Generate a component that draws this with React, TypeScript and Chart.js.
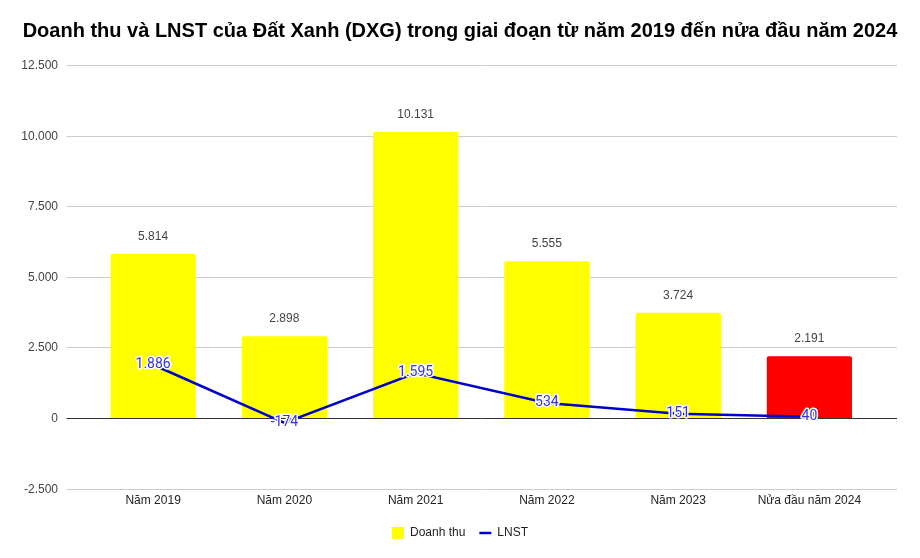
import React, { useEffect, useRef } from "react";
import { Chart, registerables } from "chart.js";

Chart.register(...registerables);

const titleText = "Doanh thu và LNST của Đất Xanh (DXG) trong giai đoạn từ năm 2019 đến nửa đầu năm 2024";
const categories = ["Năm 2019", "Năm 2020", "Năm 2021", "Năm 2022", "Năm 2023", "Nửa đầu năm 2024"];
const doanhThu = [5814, 2898, 10131, 5555, 3724, 2191];
const lnst = [1886, -174, 1595, 534, 151, 40];
const barColors = ["#ffff00", "#ffff00", "#ffff00", "#ffff00", "#ffff00", "#ff0000"];
const yMin = -2500;
const yMax = 12500;
const yStep = 2500;

const fmt = (v: number) => {
  const s = String(Math.abs(Math.round(v))).replace(/\B(?=(\d{3})+(?!\d))/g, ".");
  return (v < 0 ? "-" : "") + s;
};

const titlePlugin = {
  id: "customTitle",
  afterDraw(chart: any) {
    const { ctx } = chart;
    ctx.save();
    ctx.font = "bold 20px 'Liberation Sans', Arial, sans-serif";
    ctx.fillStyle = "#000000";
    ctx.textAlign = "center";
    ctx.textBaseline = "middle";
    ctx.fillText(titleText, chart.width / 2, 31);
    ctx.restore();
  },
};

const gridPlugin = {
  id: "extGrid",
  beforeDatasetsDraw(chart: any) {
    const { ctx, chartArea, scales } = chart;
    const y = scales.y;
    ctx.save();
    ctx.font = "12px 'Liberation Sans', Arial, sans-serif";
    ctx.textAlign = "right";
    ctx.textBaseline = "middle";
    y.ticks.forEach((t: any) => {
      const py = Math.round(y.getPixelForValue(t.value)) + 0.5;
      ctx.beginPath();
      ctx.strokeStyle = t.value === 0 ? "#333333" : "#cccccc";
      ctx.lineWidth = 1;
      ctx.moveTo(chartArea.left - 21, py);
      ctx.lineTo(chartArea.right + 22, py);
      ctx.stroke();
      ctx.fillStyle = "#444444";
      ctx.fillText(fmt(t.value), chartArea.left - 29.5, py);
    });
    ctx.restore();
  },
};

const labelPlugin = {
  id: "valueLabels",
  afterDatasetsDraw(chart: any) {
    const { ctx } = chart;
    ctx.save();
    const barMeta = chart.getDatasetMeta(0);
    ctx.font = "12px 'Liberation Sans', Arial, sans-serif";
    ctx.fillStyle = "#444444";
    ctx.textAlign = "center";
    ctx.textBaseline = "middle";
    barMeta.data.forEach((el: any, i: number) => {
      ctx.fillText(fmt(doanhThu[i]), el.x, el.y - 17);
    });
    const lineMeta = chart.getDatasetMeta(1);
    ctx.font = "14px Roboto, 'Liberation Sans', sans-serif";
    ctx.lineJoin = "round";
    lineMeta.data.forEach((el: any, i: number) => {
      const txt = fmt(lnst[i]);
      ctx.strokeStyle = "#ffffff";
      ctx.lineWidth = 3;
      ctx.strokeText(txt, el.x, el.y);
      ctx.fillStyle = "#3333dd";
      ctx.fillText(txt, el.x, el.y);
    });
    ctx.restore();
  },
};

export default function App() {
  const ref = useRef<HTMLCanvasElement>(null);
  useEffect(() => {
    if (!ref.current) return;
    const chart = new Chart(ref.current, {
      type: "bar",
      data: {
        labels: categories,
        datasets: [
          {
            type: "bar",
            label: "Doanh thu",
            data: doanhThu,
            backgroundColor: barColors,
            borderRadius: 2,
            borderSkipped: "bottom",
            categoryPercentage: 0.65,
            barPercentage: 1,
            pointStyle: "rect",
            order: 2,
          } as any,
          {
            type: "line",
            label: "LNST",
            data: lnst,
            borderColor: "#0000cc",
            backgroundColor: "#0000cc",
            borderWidth: 2.5,
            pointRadius: 0,
            tension: 0,
            pointStyle: "line",
            order: 1,
          } as any,
        ],
      },
      options: {
        animation: false,
        responsive: false,
        maintainAspectRatio: false,
        layout: { padding: { left: 45, right: 45, top: 65, bottom: 9 } },
        plugins: {
          title: { display: false },
          legend: {
            position: "bottom",
            labels: {
              usePointStyle: true,
              boxWidth: 12,
              boxHeight: 12,
              pointStyleWidth: 12,
              color: "#222222",
              font: { family: "'Liberation Sans', Arial, sans-serif", size: 12 },
              padding: 14,
              sort: (a: any, b: any) => a.datasetIndex - b.datasetIndex,
            },
          },
          tooltip: { enabled: false },
        },
        scales: {
          x: {
            grid: { display: false, drawTicks: false },
            border: { display: false },
            ticks: {
              color: "#222222",
              font: { family: "'Liberation Sans', Arial, sans-serif", size: 12 },
              padding: 5,
            },
          },
          y: {
            min: yMin,
            max: yMax,
            afterFit: (scale: any) => {
              scale.width = 42.5;
            },
            ticks: {
              stepSize: yStep,
              display: false,
            },
            grid: { display: false, drawTicks: false },
            border: { display: false },
          },
        },
      },
      plugins: [gridPlugin, labelPlugin, titlePlugin],
    });
    return () => chart.destroy();
  }, []);
  return (
    <div style={{ position: "fixed", left: 0, top: 0, width: 920, height: 558, background: "#fff" }}>
      <canvas ref={ref} width={920} height={558} />
    </div>
  );
}
